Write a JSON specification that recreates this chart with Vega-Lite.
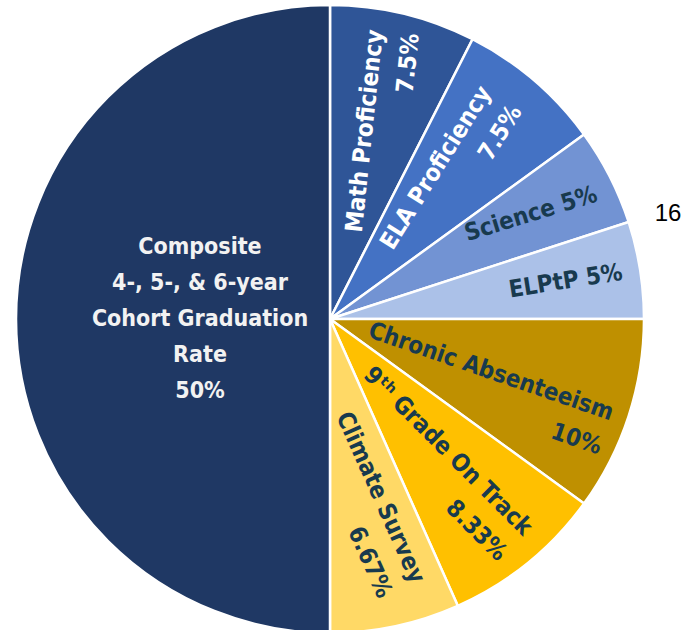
{
  "$schema": "https://vega.github.io/schema/vega-lite/v6.json",
  "width": 660,
  "height": 634,
  "padding": 0,
  "background": "white",
  "config": {
    "view": {"stroke": null},
    "text": {"font": "Liberation Sans Narrow, DejaVu Sans Condensed, sans-serif", "fontWeight": "bold", "fontSize": 24, "baseline": "middle", "lineBreak": "\n", "lineHeight": 36}
  },
  "datasets": {
    "slices": [
      {"o": 1, "name": "Math Proficiency", "label": "Math Proficiency\n7.5%", "value": 7.5},
      {"o": 2, "name": "ELA Proficiency", "label": "ELA Proficiency\n7.5%", "value": 7.5},
      {"o": 3, "name": "Science", "label": "Science 5%", "value": 5},
      {"o": 4, "name": "ELPtP", "label": "ELPtP 5%", "value": 5},
      {"o": 5, "name": "Chronic Absenteeism", "label": "Chronic Absenteeism\n10%", "value": 10},
      {"o": 6, "name": "9th Grade On Track", "label": "9ᵗʰ Grade On Track\n8.33%", "value": 8.33},
      {"o": 7, "name": "Climate Survey", "label": "Climate Survey\n6.67%", "value": 6.67},
      {"o": 8, "name": "Composite Graduation Rate", "label": "Composite\n4-, 5-, & 6-year\nCohort Graduation\nRate\n50%", "value": 50}
    ],
    "note": [{"label": "16", "pos": 20.21}]
  },
  "layer": [
    {
      "data": {"name": "slices"},
      "mark": {"type": "arc", "outerRadius": 314, "stroke": "white", "strokeWidth": 2.5},
      "encoding": {
        "theta": {"field": "value", "type": "quantitative", "stack": true},
        "order": {"field": "o", "type": "quantitative"},
        "color": {
          "field": "name",
          "type": "nominal",
          "legend": null,
          "scale": {
            "domain": ["Math Proficiency", "ELA Proficiency", "Science", "ELPtP", "Chronic Absenteeism", "9th Grade On Track", "Climate Survey", "Composite Graduation Rate"],
            "range": ["#2f5597", "#4472c4", "#7293d3", "#abc1e8", "#bf9000", "#ffc000", "#ffd966", "#1f3864"]
          }
        }
      }
    },
    {
      "data": {"name": "slices"},
      "transform": [
        {"window": [{"op": "sum", "field": "value", "as": "cum"}], "sort": [{"field": "o"}], "frame": [null, 0]},
        {"calculate": "datum.cum - datum.value / 2", "as": "mid"},
        {"filter": "datum.o == 1"}
      ],
      "mark": {"type": "text", "radius": 295, "angle": 276, "dy": -23, "align": "right", "color": "white"},
      "encoding": {"theta": {"field": "mid", "type": "quantitative", "stack": null}, "text": {"field": "label"}}
    },
    {
      "data": {"name": "slices"},
      "transform": [
        {"window": [{"op": "sum", "field": "value", "as": "cum"}], "sort": [{"field": "o"}], "frame": [null, 0]},
        {"calculate": "datum.cum - datum.value / 2", "as": "mid"},
        {"filter": "datum.o == 2"}
      ],
      "mark": {"type": "text", "radius": 279, "angle": 302, "dx": 2, "dy": -31, "align": "right", "color": "white"},
      "encoding": {"theta": {"field": "mid", "type": "quantitative", "stack": null}, "text": {"field": "label"}}
    },
    {
      "data": {"name": "slices"},
      "transform": [
        {"window": [{"op": "sum", "field": "value", "as": "cum"}], "sort": [{"field": "o"}], "frame": [null, 0]},
        {"calculate": "datum.cum - datum.value / 2", "as": "mid"},
        {"filter": "datum.o == 3"}
      ],
      "mark": {"type": "text", "radius": 295, "angle": 343, "dx": 1, "dy": 10, "align": "right", "color": "#183a4e"},
      "encoding": {"theta": {"field": "mid", "type": "quantitative", "stack": null}, "text": {"field": "label"}}
    },
    {
      "data": {"name": "slices"},
      "transform": [
        {"window": [{"op": "sum", "field": "value", "as": "cum"}], "sort": [{"field": "o"}], "frame": [null, 0]},
        {"calculate": "datum.cum - datum.value / 2", "as": "mid"},
        {"filter": "datum.o == 4"}
      ],
      "mark": {"type": "text", "radius": 296, "angle": 351, "dy": 0, "align": "right", "color": "#183a4e"},
      "encoding": {"theta": {"field": "mid", "type": "quantitative", "stack": null}, "text": {"field": "label"}}
    },
    {
      "data": {"name": "slices"},
      "transform": [
        {"window": [{"op": "sum", "field": "value", "as": "cum"}], "sort": [{"field": "o"}], "frame": [null, 0]},
        {"calculate": "datum.cum - datum.value / 2", "as": "mid"},
        {"filter": "datum.o == 5"}
      ],
      "mark": {"type": "text", "radius": 298, "angle": 19, "dy": 3, "align": "right", "color": "#183a4e"},
      "encoding": {"theta": {"field": "mid", "type": "quantitative", "stack": null}, "text": {"field": "label"}}
    },
    {
      "data": {"name": "slices"},
      "transform": [
        {"window": [{"op": "sum", "field": "value", "as": "cum"}], "sort": [{"field": "o"}], "frame": [null, 0]},
        {"calculate": "datum.cum - datum.value / 2", "as": "mid"},
        {"filter": "datum.o == 6"}
      ],
      "mark": {"type": "text", "radius": 292, "angle": 45, "dy": -20, "align": "right", "color": "#183a4e"},
      "encoding": {"theta": {"field": "mid", "type": "quantitative", "stack": null}, "text": {"field": "label"}}
    },
    {
      "data": {"name": "slices"},
      "transform": [
        {"window": [{"op": "sum", "field": "value", "as": "cum"}], "sort": [{"field": "o"}], "frame": [null, 0]},
        {"calculate": "datum.cum - datum.value / 2", "as": "mid"},
        {"filter": "datum.o == 7"}
      ],
      "mark": {"type": "text", "radius": 279, "angle": 66, "dx": 3, "dy": -31, "align": "right", "color": "#183a4e"},
      "encoding": {"theta": {"field": "mid", "type": "quantitative", "stack": null}, "text": {"field": "label"}}
    },
    {
      "data": {"name": "slices"},
      "transform": [
        {"window": [{"op": "sum", "field": "value", "as": "cum"}], "sort": [{"field": "o"}], "frame": [null, 0]},
        {"calculate": "datum.cum - datum.value / 2", "as": "mid"},
        {"filter": "datum.o == 8"}
      ],
      "mark": {"type": "text", "radius": 130, "dy": -72, "align": "center", "fontSize": 23, "color": "#f2f2f2"},
      "encoding": {"theta": {"field": "mid", "type": "quantitative", "stack": null}, "text": {"field": "label"}}
    },
    {
      "data": {"name": "note"},
      "mark": {"type": "text", "radius": 354, "align": "center", "baseline": "middle", "font": "Liberation Sans, Arial, sans-serif", "fontWeight": "normal", "fontSize": 24, "color": "black"},
      "encoding": {"theta": {"field": "pos", "type": "quantitative", "stack": null}, "text": {"field": "label"}}
    }
  ]
}
